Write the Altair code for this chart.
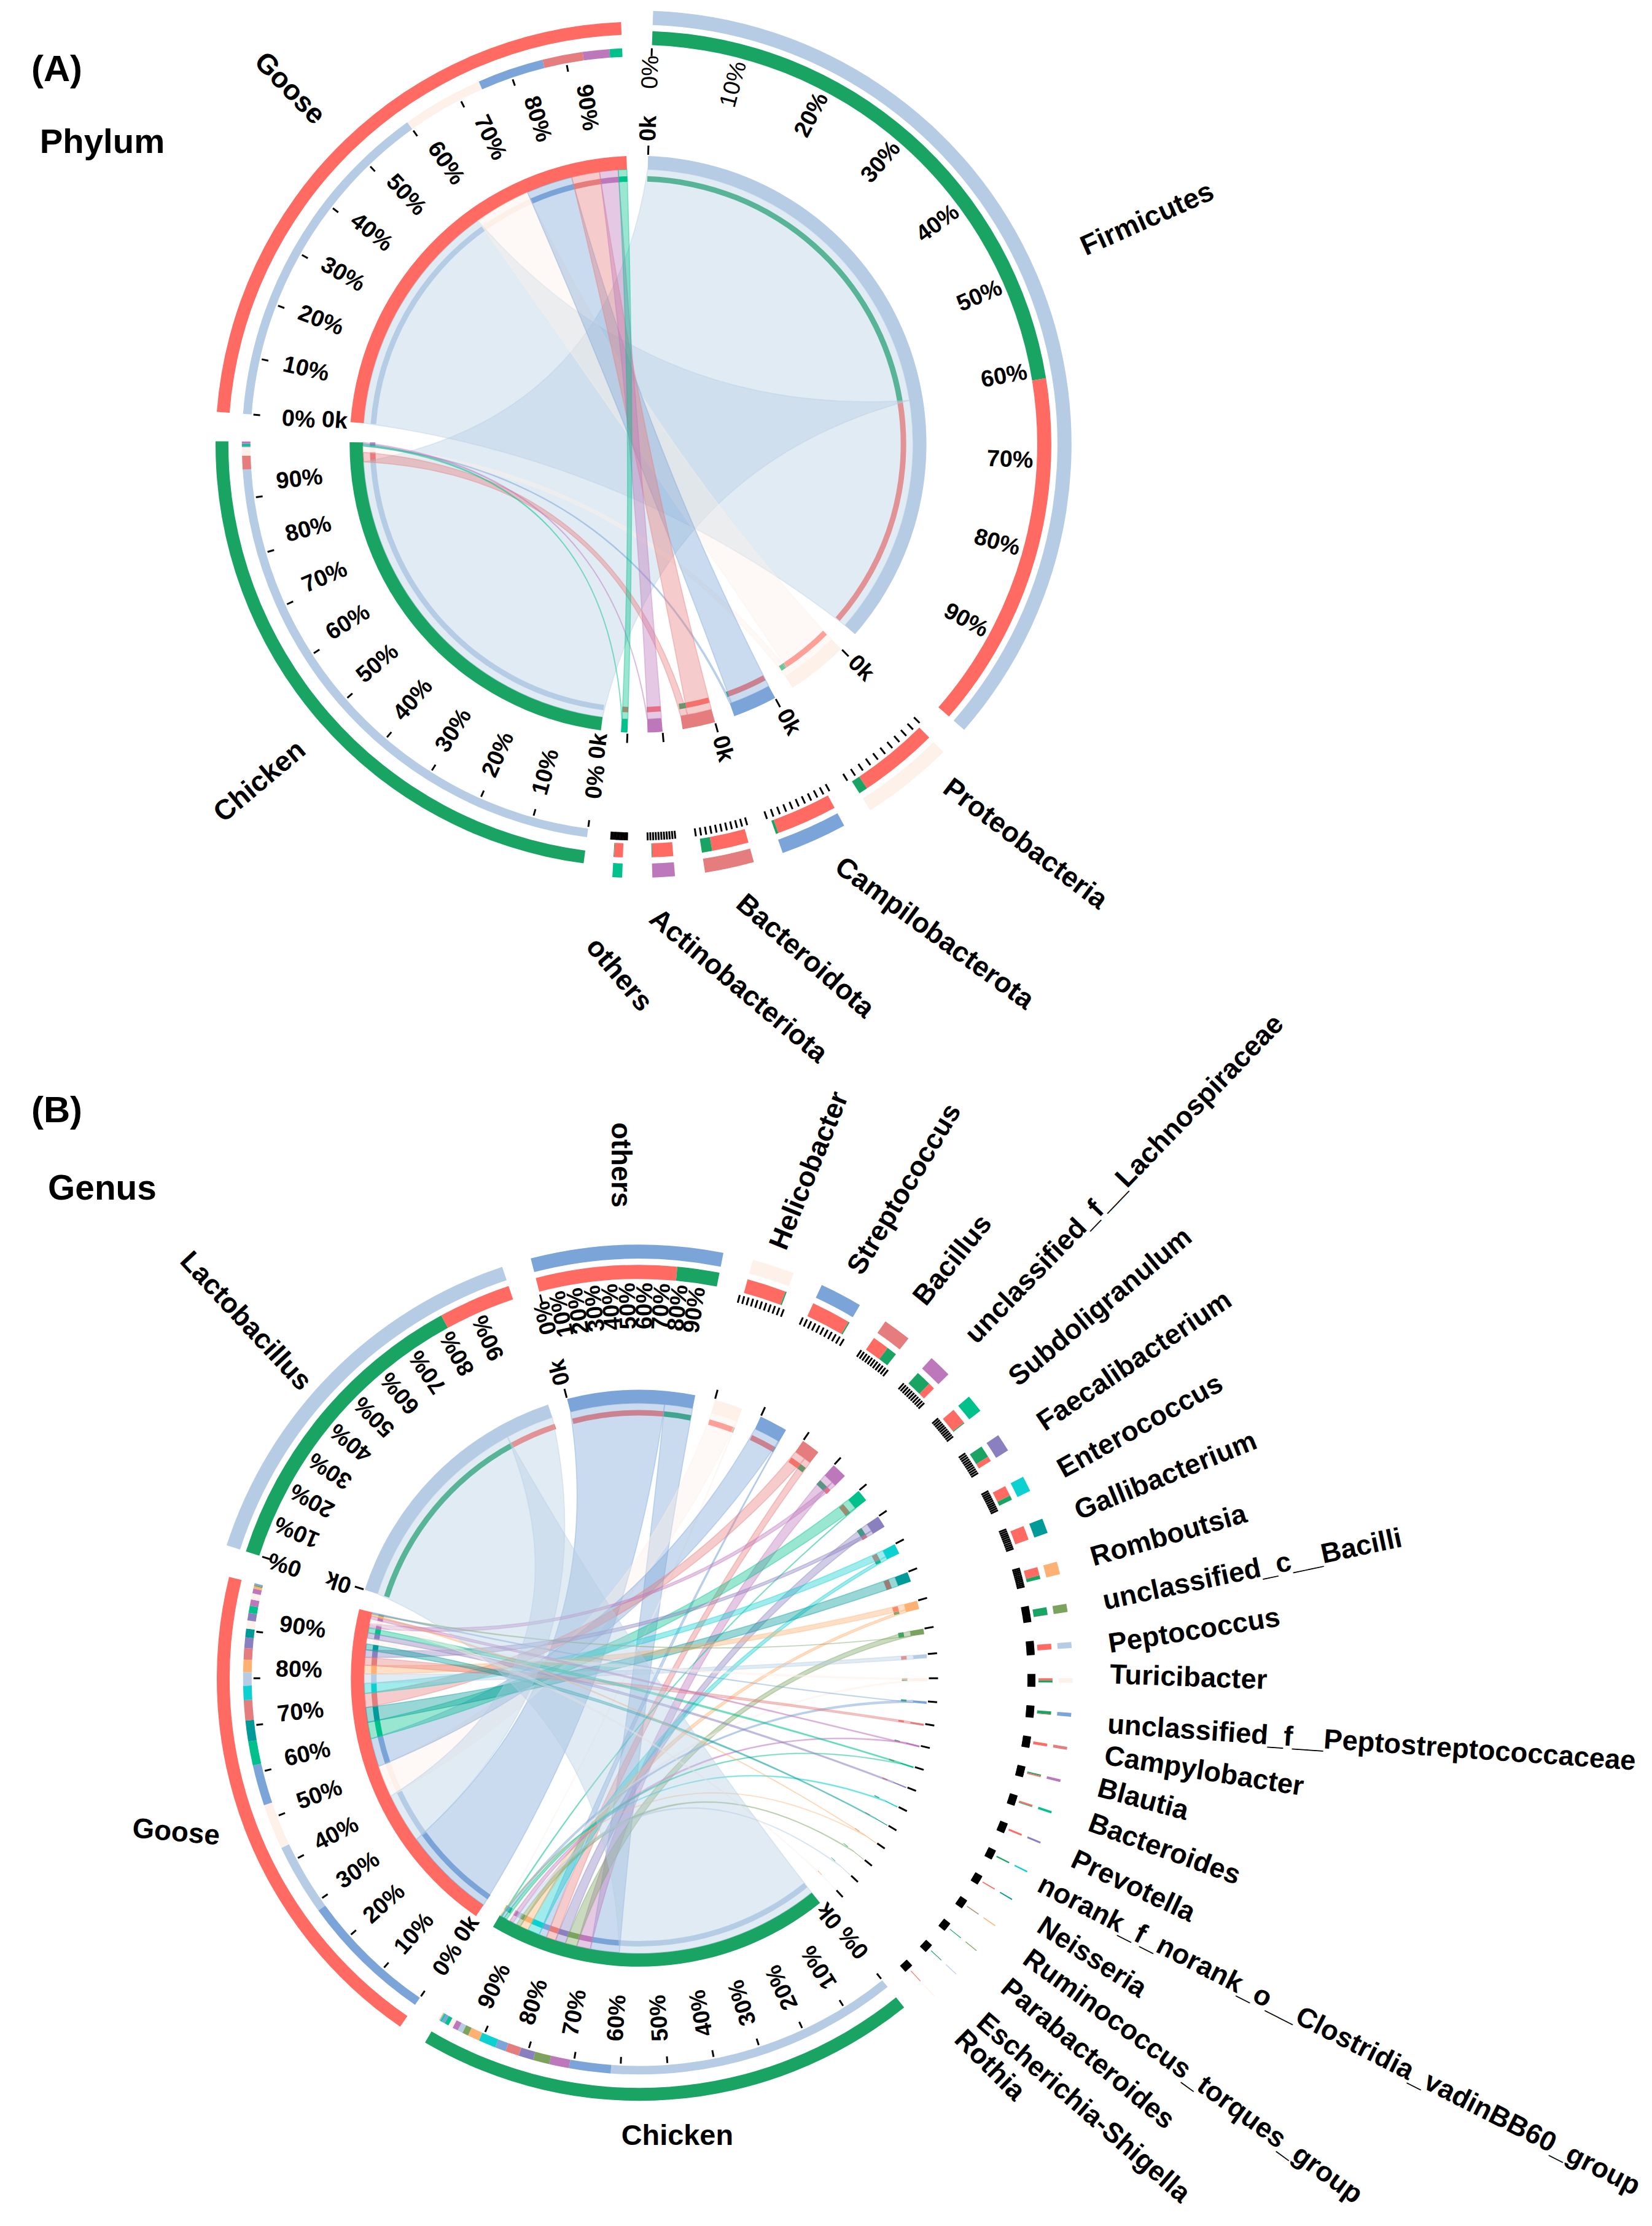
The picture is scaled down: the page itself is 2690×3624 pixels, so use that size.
import math
import altair as alt
import pandas as pd

# ---------- palette ----------
C_LBLUE, C_CREAM, C_BLUE, C_SALMON = "#B5CCE4", "#FDF1E9", "#7BA4D8", "#E57D7E"
C_PURPLE, C_TEAL, C_LAV, C_CYAN = "#BD78BB", "#00C08C", "#8B80BF", "#0DD0D0"
C_DTEAL, C_ORANGE, C_OLIVE = "#009A98", "#FFB173", "#7BA35E"
C_CHICKEN, C_GOOSE = "#19A463", "#FF6B62"

# ---------- panel A data ----------
A_NAMES = ["Firmicutes", "Proteobacteria", "Campilobacterota", "Bacteroidota",
           "Actinobacteriota", "others", "Chicken", "Goose"]
A_SPANS = [129.2, 12.4, 8.9, 6.6, 3.0, 1.3, 83.0, 83.3]
A_COLORS = [C_LBLUE, C_CREAM, C_BLUE, C_SALMON, C_PURPLE, C_TEAL, C_CHICKEN, C_GOOSE]
A_COMP = {
    "Firmicutes": [("Chicken", 61), ("Goose", 39)],
    "Proteobacteria": [("Goose", 90), ("Chicken", 10)],
    "Campilobacterota": [("Goose", 96), ("Chicken", 4)],
    "Bacteroidota": [("Goose", 78), ("Chicken", 22)],
    "Actinobacteriota": [("Goose", 97), ("Chicken", 3)],
    "others": [("Goose", 94), ("Chicken", 6)],
    "Chicken": [("Firmicutes", 95.1), ("Bacteroidota", 2.4), ("Proteobacteria", 1.5),
                ("Campilobacterota", 0.2), ("others", 0.4), ("Actinobacteriota", 0.4)],
    "Goose": [("Firmicutes", 60), ("Proteobacteria", 14.3), ("Campilobacterota", 11.7),
              ("Bacteroidota", 7.1), ("Actinobacteriota", 4.7), ("others", 2.2)],
}

# ---------- panel B data ----------
B_NAMES = ["others", "Helicobacter", "Streptococcus", "Bacillus", "unclassified_f__Lachnospiraceae",
           "Subdoligranulum", "Faecalibacterium", "Enterococcus", "Gallibacterium", "Romboutsia",
           "unclassified_c__Bacilli", "Peptococcus", "Turicibacter",
           "unclassified_f__Peptostreptococcaceae", "Campylobacter", "Blautia", "Bacteroides",
           "Prevotella", "norank_f_norank_o__Clostridia_vadinBB60_group", "Neisseria",
           "Ruminococcus_torques_group", "Parabacteroides", "Escherichia-Shigella", "Rothia",
           "Chicken", "Goose", "Lactobacillus"]
B_SPANS = [25.7, 5.7, 5.7, 3.8, 3.1, 2.4, 2.4, 2.1, 2.0, 1.7, 1.1, 0.8, 0.6, 0.5, 0.4, 0.35, 0.3,
           0.25, 0.2, 0.15, 0.12, 0.1, 0.1, 0.1, 69.3, 69.4, 53.7]
B_COLORS = [C_BLUE, C_CREAM, C_BLUE, C_SALMON, C_PURPLE, C_TEAL, C_LAV, C_CYAN, C_DTEAL, C_ORANGE,
            C_OLIVE, C_LBLUE, C_CREAM, C_BLUE, C_SALMON, C_PURPLE, C_TEAL, C_LAV, C_CYAN, C_DTEAL,
            C_ORANGE, C_OLIVE, C_LBLUE, C_CREAM, C_CHICKEN, C_GOOSE, C_LBLUE]
B_TAXA = {  # share of each host, in clockwise order
    "others": [("Goose", 77), ("Chicken", 23)],
    "Helicobacter": [("Goose", 97), ("Chicken", 3)],
    "Streptococcus": [("Goose", 97), ("Chicken", 3)],
    "Bacillus": [("Goose", 62), ("Chicken", 38)],
    "unclassified_f__Lachnospiraceae": [("Chicken", 70), ("Goose", 30)],
    "Subdoligranulum": [("Goose", 95), ("Chicken", 5)],
    "Faecalibacterium": [("Chicken", 70), ("Goose", 30)],
    "Enterococcus": [("Goose", 70), ("Chicken", 30)],
    "Gallibacterium": [("Goose", 100)],
    "Romboutsia": [("Goose", 70), ("Chicken", 30)],
    "unclassified_c__Bacilli": [("Chicken", 98), ("Goose", 2)],
    "Peptococcus": [("Goose", 100)],
    "Turicibacter": [("Goose", 50), ("Chicken", 50)],
    "unclassified_f__Peptostreptococcaceae": [("Chicken", 85), ("Goose", 15)],
    "Campylobacter": [("Goose", 100)],
    "Blautia": [("Chicken", 50), ("Goose", 50)],
    "Bacteroides": [("Goose", 70), ("Chicken", 30)],
    "Prevotella": [("Goose", 100)],
    "norank_f_norank_o__Clostridia_vadinBB60_group": [("Chicken", 100)],
    "Neisseria": [("Goose", 100)],
    "Ruminococcus_torques_group": [("Goose", 60), ("Chicken", 40)],
    "Parabacteroides": [("Chicken", 100)],
    "Escherichia-Shigella": [("Chicken", 100)],
    "Rothia": [("Goose", 100)],
    "Lactobacillus": [("Chicken", 81), ("Goose", 19)],
}
B_CHICKEN = [("Lactobacillus", 62), ("others", 8.8), ("unclassified_f__Lachnospiraceae", 4.2),
             ("unclassified_c__Bacilli", 3.5), ("Faecalibacterium", 3.1), ("Bacillus", 2.9),
             ("Streptococcus", 2.3), ("Enterococcus", 3.7), ("Romboutsia", 2.5),
             ("Parabacteroides", 1.3), ("Escherichia-Shigella", 1.1), ("Blautia", 1.2),
             ("Turicibacter", 1.0), ("Bacteroides", 0.9),
             ("unclassified_f__Peptostreptococcaceae", 0.7), ("Subdoligranulum", 0.25),
             ("norank_f_norank_o__Clostridia_vadinBB60_group", 0.2),
             ("Ruminococcus_torques_group", 0.2), ("Helicobacter", 0.15)]
B_GOOSE = [("others", 28), ("Lactobacillus", 15), ("Helicobacter", 9.5), ("Streptococcus", 8.5),
           ("Subdoligranulum", 5), ("Gallibacterium", 4.4), ("Bacillus", 4.2), ("Enterococcus", 3),
           ("Peptococcus", 2.8), ("Romboutsia", 2.6), ("Campylobacter", 2.4),
           ("Faecalibacterium", 2.2), ("Neisseria", 1.8), ("Turicibacter", 1.7), ("Prevotella", 1.6),
           ("Bacteroides", 1.5), ("unclassified_f__Lachnospiraceae", 1.3), ("Rothia", 1.3),
           ("Blautia", 1.0), ("Ruminococcus_torques_group", 0.5), ("unclassified_c__Bacilli", 0.3),
           ("unclassified_f__Peptostreptococcaceae", 0.3)]
B_COMP = dict(B_TAXA, Chicken=B_CHICKEN, Goose=B_GOOSE)

PCT_TICKS = [0, 10, 20, 30, 40, 50, 60, 70, 80, 90]
PCT_LABELS = ["0%", "10%", "20%", "30%", "40%", "50%", "60%", "70%", "80%", "90%"]
HOSTS = ("Chicken", "Goose")

# ---------- layout ----------
GAP = 4.0
CENTER = {"A": (1042, 720), "B": (1044, 2735)}
START = {"A": 2.0, "B": -14.5}
R_OUT_TAXON = ((708, 685), (675, 652), (647, 634))
R_OUT_HOST = ((690, 669), (647, 633), (630, 619))
R_IN_1, R_IN_2 = (471, 449), (438, 429)
R_PCT = {"taxon": 608, "host": 556}
R_0K = {"taxon": 516, "host": 497}
CTRL_K = 0.3
HOST_LABEL_STRETCH = 1.03

S = 2690 / 1160
F_A, F_B = 46, 45.5
LABELS = [
    ("Firmicutes", 808, 152, -24, F_A), ("Proteobacteria", 722, 592, 37, F_A),
    ("Campilobacterota", 658, 655, 36, F_A), ("Bacteroidota", 567, 671, 41, F_A),
    ("Actinobacteriota", 520, 692, 40, F_A), ("others", 436, 684, 50, F_A),
    ("Chicken", 183, 548, -40, F_A), ("Goose", 204, 60, 46, F_A),
    ("others", 437, 818, 90, F_B), ("Helicobacter", 570, 822, -68, F_B),
    ("Streptococcus", 637, 835, -59, F_B), ("Bacillus", 671, 885, -51, F_B),
    ("unclassified_f__Lachnospiraceae", 792, 828, -46, F_B), ("Subdoligranulum", 775, 918, -40, F_B),
    ("Faecalibacterium", 799, 956, -34, F_B), ("Enterococcus", 803, 1002, -29, F_B),
    ("Gallibacterium", 821, 1037, -22, F_B), ("Romboutsia", 823, 1079, -16, F_B),
    ("unclassified_c__Bacilli", 882, 1103, -12, F_B), ("Peptococcus", 841, 1146, -9, F_B),
    ("Turicibacter", 837, 1179, 2, F_B), ("unclassified_f__Peptostreptococcaceae", 966, 1225, 4, F_B),
    ("Campylobacter", 848, 1245, 9, F_B), ("Blautia", 805, 1265, 15, F_B),
    ("Bacteroides", 820, 1300, 20, F_B), ("Prevotella", 798, 1326, 25, F_B),
    ("norank_f_norank_o__Clostridia_vadinBB60_group", 943, 1431, 27, F_B),
    ("Neisseria", 769, 1376, 33, F_B), ("Ruminococcus_torques_group", 840, 1460, 36, F_B),
    ("Parabacteroides", 766, 1444, 40, F_B), ("Escherichia-Shigella", 763, 1482, 41, F_B),
    ("Rothia", 697, 1452, 45, F_B), ("Goose", 124, 1288, 5, 46), ("Chicken", 477, 1502, 0, 47),
    ("Lactobacillus", 173, 928, 47, F_B),
    ("(A)", 40, 47, 0, 60), ("Phylum", 72, 98, 0, 56.5), ("(B)", 40, 780, 0, 60), ("Genus", 72, 835, 0, 57),
]

arcs, polys, ticks, texts = [], [], [], []
poly_id = 0


def polar(c, a, r):
    t = math.radians(a)
    return c[0] + r * math.sin(t), c[1] - r * math.cos(t)


def add_arc(c, a0, a1, rr, color):
    arcs.append({"x": c[0], "y": c[1], "t0": math.radians(a0), "t1": math.radians(a1),
                 "r1": rr[0], "r0": rr[1], "c": color})


def add_tick(c, a, r0, r1):
    x0, y0 = polar(c, a, r0)
    x1, y1 = polar(c, a, r1)
    ticks.append({"x": x0, "y": y0, "x2": x1, "y2": y1})


def add_text(c, a, r, label, rot, size=38, weight="bold"):
    x, y = polar(c, a, r)
    texts.append({"x": x, "y": y, "t": label, "rot": rot % 360, "s": size, "w": weight})


def edge(c, r, a, b, n=36):
    """Quadratic edge between two rim angles; the control point leans along their bisector."""
    p0, p1 = polar(c, a, r), polar(c, b, r)
    d = (b - a) % 360
    if d > 180:
        mid, sep = a - (360 - d) / 2, 360 - d
    else:
        mid, sep = a + d / 2, d
    ctrl = polar(c, mid, CTRL_K * r * (1 - sep / 180))
    out = []
    for i in range(1, n):
        u = i / n
        out.append(((1 - u) ** 2 * p0[0] + 2 * u * (1 - u) * ctrl[0] + u * u * p1[0],
                    (1 - u) ** 2 * p0[1] + 2 * u * (1 - u) * ctrl[1] + u * u * p1[1]))
    return out


def arc_pts(c, a0, a1, r):
    n = max(2, int(abs(a1 - a0) / 1.0) + 2)
    return [polar(c, a0 + (a1 - a0) * i / (n - 1), r) for i in range(n)]


def panel(key, names, spans, colors, comp):
    global poly_id
    c = CENTER[key]
    col = dict(zip(names, colors))
    span = dict(zip(names, spans))
    start, seg, a = {}, {}, START[key]
    for n, s in zip(names, spans):
        start[n] = a
        a += s + GAP
    for n in names:
        total = sum(v for _, v in comp[n])
        p = start[n]
        for partner, v in comp[n]:
            w = span[n] * v / total
            seg[(n, partner)] = (p, p + w)
            p += w
    for n in names:
        a0, a1 = start[n], start[n] + span[n]
        host = n in HOSTS
        ro = R_OUT_HOST if host else R_OUT_TAXON
        add_arc(c, a0, a1, ro[0], col[n])
        add_arc(c, a0, a1, R_IN_1, col[n])
        for partner, _ in comp[n]:
            b0, b1 = seg[(n, partner)]
            add_arc(c, b0, b1, ro[1], col[partner])
            add_arc(c, b0, b1, R_IN_2, col[partner])
        big = span[n] > 20
        flip_up = (key == "A" and a0 > 180) or (key == "B" and host)
        if big:
            for p, lab in zip(PCT_TICKS, PCT_LABELS):
                ap = a0 + span[n] * p / 100
                if host or p == 0:
                    add_tick(c, ap, ro[2][0], ro[2][1])
                al = a0 - 0.3 + span[n] * HOST_LABEL_STRETCH * p / 100 if host else ap
                rot = al + 90 if flip_up else al - 90
                plain = key == "A" and n == "Firmicutes" and p < 20
                add_text(c, al, R_PCT["host" if host else "taxon"], lab, rot,
                         weight="normal" if plain else "bold")
        else:
            mid, spread = (a0 + a1) / 2, span[n] + 1.0
            for i in range(11):
                add_tick(c, mid - spread / 2 + spread * i / 10, ro[2][0], ro[2][1])
        if not host:
            add_tick(c, a0, 488, 473)
        if big or (key == "A" and span[n] > 5):
            add_text(c, a0, R_0K["host" if host else "taxon"], "0k",
                     a0 + 90 if flip_up else a0 - 90)
    for n in names:
        if n in HOSTS:
            continue
        for host, _ in comp[n]:
            if (host, n) not in seg:
                continue
            a0, a1 = seg[(n, host)]
            b0, b1 = seg[(host, n)]
            r = R_IN_1[1]
            pts = arc_pts(c, a0, a1, r)
            pts += edge(c, r, a1, b0)
            pts += arc_pts(c, b0, b1, r)
            pts += edge(c, r, b1, a0)
            pts.append(pts[0])
            for i, (x, y) in enumerate(pts):
                polys.append({"id": poly_id, "i": i, "x": x, "y": y, "c": col[n]})
            poly_id += 1


panel("A", A_NAMES, A_SPANS, A_COLORS, A_COMP)
panel("B", B_NAMES, B_SPANS, B_COLORS, B_COMP)
for label, x, y, rot, size in LABELS:
    texts.append({"x": x * S, "y": y * S, "t": label, "rot": rot % 360, "s": size, "w": "bold"})

# ---------- chart ----------
FONT = "Liberation Sans"
W, H = 2682, 3616
xs = alt.Scale(domain=[8, 2690], nice=False, zero=False)
ys = alt.Scale(domain=[3624, 8], nice=False, zero=False)
X = alt.X("x:Q", scale=xs, axis=None)
Y = alt.Y("y:Q", scale=ys, axis=None)

arc_layer = alt.Chart(pd.DataFrame(arcs)).mark_arc().encode(
    x=X, y=Y,
    theta=alt.Theta("t0:Q", scale=None, stack=None),
    theta2=alt.Theta2("t1:Q"),
    radius=alt.Radius("r1:Q", scale=None),
    radius2=alt.Radius2("r0:Q"),
    fill=alt.Fill("c:N", scale=None),
)
chord_layer = alt.Chart(pd.DataFrame(polys)).mark_line(
    strokeWidth=1.6, strokeOpacity=0.4, fillOpacity=0.4
).encode(
    x=X, y=Y,
    detail="id:N",
    order="i:Q",
    fill=alt.Fill("c:N", scale=None),
    stroke=alt.Stroke("c:N", scale=None),
)
tick_layer = alt.Chart(pd.DataFrame(ticks)).mark_rule(color="#000000", strokeWidth=3).encode(
    x=X, y=Y, x2="x2:Q", y2="y2:Q",
)
df_t = pd.DataFrame(texts)


def text_layer(weight):
    return alt.Chart(df_t[df_t.w == weight]).mark_text(
        font=FONT, fontWeight=weight, color="#000000", align="center", baseline="middle"
    ).encode(
        x=X, y=Y, text="t:N",
        angle=alt.Angle("rot:Q", scale=None),
        size=alt.Size("s:Q", scale=None),
    )


chart = alt.layer(arc_layer, chord_layer, tick_layer, text_layer("normal"), text_layer("bold")).properties(
    width=W, height=H, padding=0, autosize=alt.AutoSizeParams(type="none"),
).configure_view(stroke=None)
chart.save("out.html", embed_options={"renderer": "svg", "actions": False})
